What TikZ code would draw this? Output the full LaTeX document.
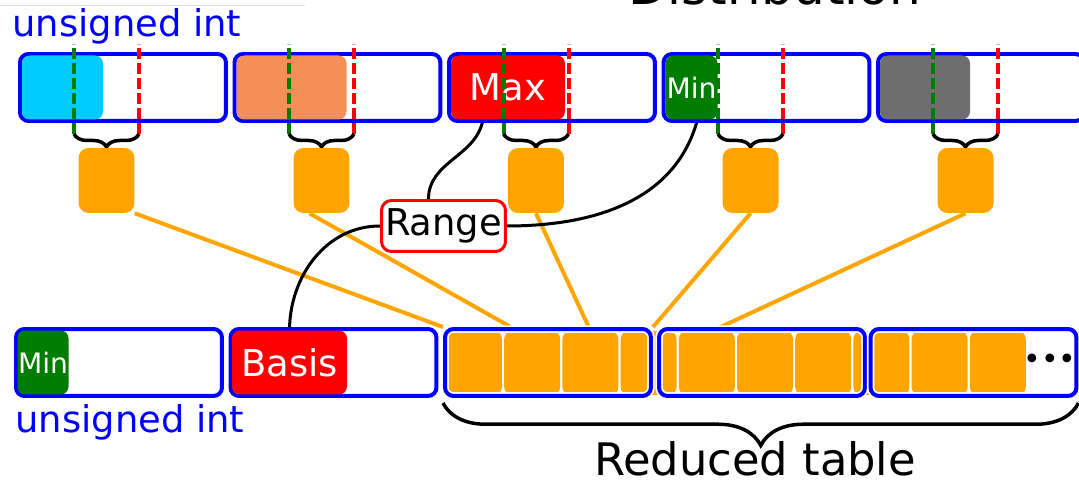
\documentclass[tikz,border=0pt]{standalone}
\usepackage{fontspec}
\setmainfont{DejaVu Sans}
\usetikzlibrary{positioning, calc, backgrounds, decorations.pathreplacing}
\definecolor{slotblue}{RGB}{0,0,255}
\definecolor{valcyan}{RGB}{0,204,255}
\definecolor{valsalmon}{RGB}{245,143,88}
\definecolor{valred}{RGB}{255,0,0}
\definecolor{valgreen}{RGB}{0,125,0}
\definecolor{valgray}{RGB}{110,110,110}
\definecolor{bucket}{RGB}{255,165,0}
\tikzstyle{slot} = [rectangle, rounded corners=0.17cm, minimum width=4.12cm, minimum height=1.34cm, draw=slotblue, line width=0.08cm, fill=white, inner sep=0pt]
\tikzstyle{tableslot} = [slot, fill=none, preaction={draw=white, line width=0.15cm}]
\tikzstyle{valfill} = [rectangle, rounded corners=0.16cm, minimum height=1.28cm, inner sep=0pt, outer sep=0pt, text=white, font=\fontsize{21}{21}\selectfont]
\tikzstyle{smallvalfill} = [valfill, font=\fontsize{16}{16}\selectfont]
\tikzstyle{bucketbox} = [rectangle, rounded corners=0.2cm, minimum width=1.12cm, minimum height=1.3cm, fill=bucket, inner sep=0pt]
\tikzstyle{tablecell} = [rectangle, rounded corners=0.16cm, minimum width=1.12cm, minimum height=1.28cm, fill=bucket, inner sep=0pt]
\tikzstyle{rangebox} = [rectangle, rounded corners=0.2cm, minimum width=2.48cm, minimum height=1.02cm, draw=valred, line width=0.06cm, fill=white, inner sep=0pt, font=\fontsize{21}{21}\selectfont]
\tikzstyle{typename} = [inner sep=0pt, text=slotblue, font=\fontsize{21}{21}\selectfont]
\tikzstyle{lowcut} = [draw=valgreen, line width=0.08cm, dash pattern=on 0.22cm off 0.08cm]
\tikzstyle{highcut} = [lowcut, draw=valred]
\tikzstyle{smallbrace} = [decorate, decoration={brace, mirror, amplitude=0.26cm}, line width=0.07cm]
\tikzstyle{bigbrace} = [decorate, decoration={brace, mirror, amplitude=0.85cm}, line width=0.07cm]
\tikzstyle{feedline} = [draw=bucket, line width=0.08cm]
\tikzstyle{blackcurve} = [draw=black, line width=0.06cm]

\begin{document}
\begin{tikzpicture}[x=0.02cm, y=-0.02cm]
\useasboundingbox (0,0) rectangle (1079,482);

% Title, cut by the page edge
\node (title) [inner sep=0pt, font=\fontsize{28.5}{28.5}\selectfont, anchor=base] at (775,5) {Distribution};
\draw [black!12, line width=0.02cm] (0,6) -- (305,6);

% Top row of values
\node (toptype) [typename, anchor=base west] at (12,37) {unsigned int};
\node (top1) [slot] at (123,87.5) {};
\node (top2) [slot] at (337.5,87.5) {};
\node (top3) [slot] at (552,87.5) {};
\node (top4) [slot] at (766.5,87.5) {};
\node (top5) [slot] at (981,87.5) {};

\node (cyanfill) [valfill, fill=valcyan, minimum width=1.62cm, right=0.08cm of top1.west] {};
\node (salmonfill) [valfill, fill=valsalmon, minimum width=2.2cm, right=0.08cm of top2.west] {};
\node (maxfill) [valfill, fill=valred, minimum width=2.28cm, right=0.08cm of top3.west] {Max};
\node (minfill) [smallvalfill, fill=valgreen, minimum width=1.04cm, right=0.08cm of top4.west] {Min};
\node (grayfill) [valfill, fill=valgray, minimum width=1.8cm, right=0.08cm of top5.west] {};

% Cut lines
\coordinate (g1) at (74,134);  \coordinate (r1) at (139,134);
\coordinate (g2) at (289,134); \coordinate (r2) at (354,134);
\coordinate (g3) at (503.5,134); \coordinate (r3) at (568.5,134);
\coordinate (g4) at (718,134); \coordinate (r4) at (783,134);
\coordinate (g5) at (933,134); \coordinate (r5) at (998,134);
\draw [lowcut] (g1) -- ++(0,-90);
\draw [highcut] (r1) -- ++(0,-90);
\draw [lowcut] (g2) -- ++(0,-90);
\draw [highcut] (r2) -- ++(0,-90);
\draw [lowcut] (g3) -- ++(0,-90);
\draw [highcut] (r3) -- ++(0,-90);
\draw [lowcut] (g4) -- ++(0,-90);
\draw [highcut] (r4) -- ++(0,-90);
\draw [lowcut] (g5) -- ++(0,-90);
\draw [highcut] (r5) -- ++(0,-90);

% Braces and buckets
\draw [smallbrace] (g1) -- (r1);
\draw [smallbrace] (g2) -- (r2);
\draw [smallbrace] (g3) -- (r3);
\draw [smallbrace] (g4) -- (r4);
\draw [smallbrace] (g5) -- (r5);
\node (sq1) [bucketbox] at (106.5,180.5) {};
\node (sq2) [bucketbox] at (321.5,180.5) {};
\node (sq3) [bucketbox] at (536,180.5) {};
\node (sq4) [bucketbox] at (750.5,180.5) {};
\node (sq5) [bucketbox] at (965.5,180.5) {};

% Range
\node (range) [rangebox] at (443.5,226) {Range};

% Bottom row
\node (bottype) [typename, anchor=base west] at (15,433) {unsigned int};
\node (bot1) [slot] at (119,362.5) {};
\node (bot2) [slot] at (333.5,362.5) {};
\node (minbase) [smallvalfill, fill=valgreen, minimum width=1.02cm, right=0.07cm of bot1.west] {Min};
\node (basis) [valfill, fill=valred, minimum width=2.3cm, right=0.07cm of bot2.west] {Basis};

% Reduced table
\node (cell1) [tablecell] at (474,363) {};
\node (cell2) [tablecell] at (532.2,363) {};
\node (cell3) [tablecell] at (590.4,363) {};
\node (cell4) [tablecell] at (648.6,363) {};
\node (cell5) [tablecell] at (706.8,363) {};
\node (cell6) [tablecell] at (765,363) {};
\node (cell7) [tablecell] at (823.2,363) {};
\node (cell8) [tablecell] at (881.4,363) {};
\node (cell9) [tablecell] at (939.6,363) {};
\node (cell10) [tablecell] at (997.8,363) {};
\node (bot3) [tableslot] at (548,362.5) {};
\node (bot4) [tableslot] at (762,362.5) {};
\node (bot5) [tableslot] at (973.5,362.5) {};
\node (dots) [inner sep=0pt, font=\fontsize{17}{17}\selectfont] at (1050,362) {•••};
\draw [bigbrace] ([yshift=-0.1cm]bot3.south west) -- ([yshift=-0.1cm]bot5.south east);
\node (reduced) [inner sep=0pt, font=\fontsize{25.5}{25.5}\selectfont, anchor=base] at (755,476) {Reduced table};

% Connections
\begin{scope}[on background layer]
\draw [feedline] (sq1.south east) -- (bot3.north west);
\draw [feedline] ($(sq2.south)+(-12,0)$) -- ($(cell2.north)+(-15,0)$);
\draw [feedline] (sq3.south) -- (cell3.north);
\draw [feedline] (sq4.south) -- (bot3.north east);
\draw [feedline] (sq5.south) -- ($(cell5.north)+(6,0)$);
\draw [blackcurve] ($(maxfill.south west)+(32,0)$) to[out=-100, in=90] ($(range.north)+(-15,0)$);
\draw [blackcurve] ($(minfill.south)+(6,0)$) to[out=-105, in=0] (range.east);
\draw [blackcurve] (range.west) to[out=180, in=90] (basis.north);
\end{scope}

\end{tikzpicture}
\end{document}
